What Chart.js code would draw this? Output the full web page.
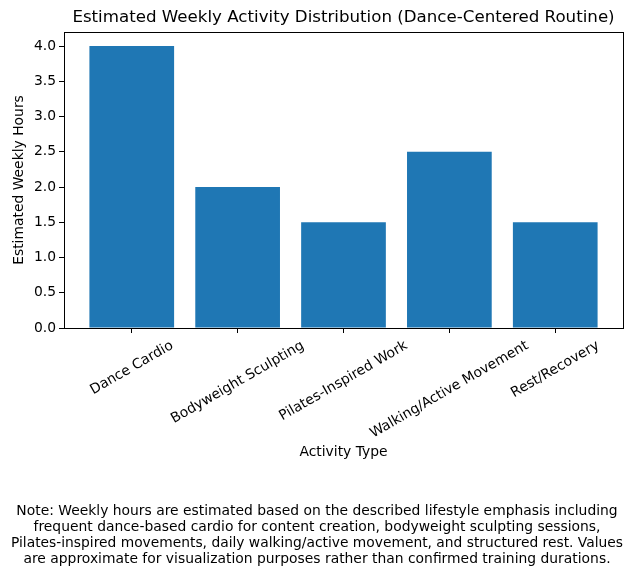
<!DOCTYPE html>
<html>
<head>
<meta charset="utf-8">
<script src="https://cdn.jsdelivr.net/npm/chart.js@4.4.0/dist/chart.umd.min.js"></script>
<style>
  html, body { margin: 0; padding: 0; background: #fff; }
  canvas { display: block; }
</style>
</head>
<body>
<canvas id="activityChart" width="635" height="576"></canvas>
<script>
const categories = ['Dance Cardio', 'Bodyweight Sculpting', 'Pilates-Inspired Work', 'Walking/Active Movement', 'Rest/Recovery'];
const weeklyHours = [4.0, 2.0, 1.5, 2.5, 1.5];
const yTicks = [0.0, 0.5, 1.0, 1.5, 2.0, 2.5, 3.0, 3.5, 4.0];
const chartTitle = 'Estimated Weekly Activity Distribution (Dance-Centered Routine)';
const noteLines = [
    'Note: Weekly hours are estimated based on the described lifestyle emphasis including',
    'frequent dance-based cardio for content creation, bodyweight sculpting sessions,',
    'Pilates-inspired movements, daily walking/active movement, and structured rest. Values',
    'are approximate for visualization purposes rather than confirmed training durations.'
];

const FONT = '"DejaVu Sans", sans-serif';
const TICK_SIZE = 13.89;

// frame on all four sides + title centred over the axes
const framePlugin = {
    id: 'frame',
    afterDraw(chart) {
        const {ctx, chartArea: a} = chart;
        ctx.save();
        ctx.strokeStyle = '#000';
        ctx.lineWidth = 1;
        ctx.strokeRect(Math.round(a.left) + 0.5, Math.round(a.top) + 0.5,
            Math.round(a.right - a.left), Math.round(a.bottom - a.top));
        ctx.font = '16.67px ' + FONT;
        ctx.fillStyle = '#000';
        ctx.textAlign = 'center';
        ctx.textBaseline = 'middle';
        ctx.fillText(chartTitle, (a.left + a.right) / 2, 18);
        ctx.restore();
    }
};

// rotated category labels, centred under their tick
const xLabelPlugin = {
    id: 'xLabels',
    afterDraw(chart) {
        const ctx = chart.ctx;
        const xs = chart.scales.x;
        const top = chart.chartArea.bottom + 9.7;
        const ang = 30 * Math.PI / 180;
        ctx.save();
        ctx.font = TICK_SIZE + 'px ' + FONT;
        ctx.fillStyle = '#000';
        ctx.textAlign = 'center';
        ctx.textBaseline = 'middle';
        xs.ticks.forEach(t => {
            const text = categories[t.value];
            if (text === undefined) return;
            const w = ctx.measureText(text).width;
            const h = 16;
            const bh = w * Math.sin(ang) + h * Math.cos(ang);
            ctx.save();
            ctx.translate(xs.getPixelForValue(t.value), top + bh / 2);
            ctx.rotate(-ang);
            ctx.fillText(text, 0, 0);
            ctx.restore();
        });
        ctx.restore();
    }
};

const ctx = document.getElementById('activityChart').getContext('2d');
new Chart(ctx, {
    type: 'bar',
    data: {
        datasets: [{
            label: 'Estimated Weekly Hours',
            data: weeklyHours.map((v, i) => ({x: i, y: v})),
            backgroundColor: '#1f77b4',
            borderColor: '#1f77b4',
            borderWidth: 0,
            inflateAmount: 0,
            categoryPercentage: 1.0,
            barPercentage: 0.8
        }]
    },
    options: {
        responsive: false,
        animation: false,
        devicePixelRatio: 1,
        layout: { padding: { left: 11, right: 12, top: 32, bottom: 0 } },
        plugins: {
            legend: { display: false },
            tooltip: { enabled: false },
            title: { display: false },
            subtitle: {
                display: true,
                position: 'bottom',
                text: noteLines,
                color: '#000',
                font: { family: FONT, size: TICK_SIZE, weight: 'normal', lineHeight: 1.13 },
                padding: { top: 0, bottom: 9.2 }
            }
        },
        scales: {
            x: {
                type: 'linear',
                offset: false,
                min: -0.64,
                max: 4.64,
                afterBuildTicks: scale => {
                    scale.ticks = categories.map((_, i) => ({value: i}));
                },
                afterFit: scale => { scale.height = 176; },
                ticks: {
                    autoSkip: false,
                    maxRotation: 0,
                    minRotation: 0,
                    color: 'rgba(0,0,0,0)',
                    callback: v => categories[v] || ''
                },
                grid: { offset: false, drawOnChartArea: false, drawTicks: true, tickLength: 5, tickColor: '#000', lineWidth: 1 },
                border: { display: false },
                title: {
                    display: true,
                    text: 'Activity Type',
                    color: '#000',
                    font: { family: FONT, size: TICK_SIZE, weight: 'normal', lineHeight: 1.2 },
                    padding: { top: 0, bottom: 43.7 }
                }
            },
            y: {
                min: 0,
                max: 4.2,
                afterBuildTicks: scale => {
                    scale.ticks = yTicks.map(v => ({value: v}));
                },
                afterFit: scale => { scale.width = 53; },
                ticks: {
                    color: '#000',
                    padding: 3,
                    font: { family: FONT, size: TICK_SIZE },
                    callback: v => Number(v).toFixed(1)
                },
                grid: { drawOnChartArea: false, drawTicks: true, tickLength: 5, tickColor: '#000', lineWidth: 1 },
                border: { display: false },
                title: {
                    display: true,
                    text: 'Estimated Weekly Hours',
                    color: '#000',
                    font: { family: FONT, size: TICK_SIZE, weight: 'normal', lineHeight: 1.2 },
                    padding: { top: 0, bottom: 0 }
                }
            }
        }
    },
    plugins: [framePlugin, xLabelPlugin]
});
</script>
</body>
</html>
